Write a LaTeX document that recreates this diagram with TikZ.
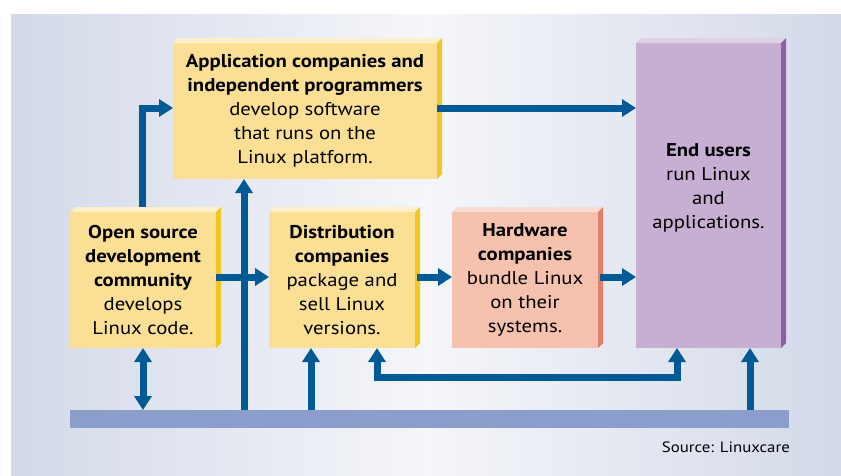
\documentclass[tikz,border=0pt]{standalone}
\usepackage{fontspec}
\setmainfont{PT Sans}[FakeStretch=1.12]
\usetikzlibrary{arrows.meta}
\definecolor{bgedge}{HTML}{D3D9E8}
\definecolor{bgmid}{HTML}{F5F6FA}
\definecolor{yfront}{HTML}{FADF95}
\definecolor{yside}{HTML}{F4C623}
\definecolor{ytop}{HTML}{FDEFC8}
\definecolor{hfront}{HTML}{F6C2AE}
\definecolor{hside}{HTML}{E27E69}
\definecolor{htop}{HTML}{FADDD2}
\definecolor{efront}{HTML}{C6AFD3}
\definecolor{eside}{HTML}{8D60A3}
\definecolor{etop}{HTML}{DED1E6}
\definecolor{barcol}{HTML}{8B9DCA}
\definecolor{arrowcol}{HTML}{005A96}
\newcommand\boxfaces[3]{%
  \fill[#2] (#1.north west) -- ++(5,-5) -- ([shift={(5,-5)}]#1.north east) -- (#1.north east) -- cycle;
  \fill[#3] (#1.north east) -- ++(5,-5) -- ([shift={(5,-5)}]#1.south east) -- (#1.south east) -- cycle;
}
\begin{document}
\begin{tikzpicture}[x=1pt,y=-1pt,
  box/.style={anchor=north west, inner sep=0pt, outer sep=0pt, align=center,
    font=\fontsize{18.5}{24}\selectfont, text=black},
  ybox/.style={box, fill=yfront},
  arr/.style={draw=arrowcol, line width=7pt, -{Triangle[width=17pt,length=14pt]}},
  dblarr/.style={draw=arrowcol, line width=7pt, line join=miter,
    {Triangle[width=17pt,length=14pt]}-{Triangle[width=17pt,length=14pt]}},
  ]
\useasboundingbox (0,0) rectangle (841,475);
\shade[left color=bgedge, right color=bgedge, middle color=bgmid] (11,14) rectangle (841,475);

\node[ybox, minimum width=264pt, minimum height=136pt] (app) at (173,43)
  {\textbf{Application companies and}\\\textbf{independent programmers}\\develop software\\that runs on the\\Linux platform.};
\boxfaces{app}{ytop}{yside}
\node[ybox, minimum width=146pt, minimum height=136pt] (os) at (70,212)
  {\textbf{Open source}\\\textbf{development}\\\textbf{community}\\develops\\Linux code.};
\boxfaces{os}{ytop}{yside}
\node[ybox, minimum width=146pt, minimum height=136pt] (dist) at (269,212)
  {\textbf{Distribution}\\\textbf{companies}\\package and\\sell Linux\\versions.};
\boxfaces{dist}{ytop}{yside}
\node[box, fill=hfront, minimum width=146pt, minimum height=136pt] (hw) at (452,212)
  {\textbf{Hardware}\\\textbf{companies}\\bundle Linux\\on their\\systems.};
\boxfaces{hw}{htop}{hside}
\node[box, fill=efront, minimum width=145pt, minimum height=305pt] (eu) at (636,43) {};
\boxfaces{eu}{etop}{eside}
\node[box, anchor=center] (eutext) at (708.5,188)
  {\textbf{End users}\\run Linux\\and\\applications.};

\node[box, fill=barcol, minimum width=719pt, minimum height=18pt] (bar) at (70,410) {};
\node[anchor=base east, inner sep=0pt, font=\fontsize{15}{18}\selectfont] (src) at (790,452) {Source: Linuxcare};

% connectors
\coordinate (a1) at (142,207);
\coordinate (a1y) at (0,108);
\draw[arr, line join=miter] (a1) |- (app.west |- a1y);
\coordinate (a2) at (437,108);
\draw[arr] (a2) -- (eu.west |- a2);
\coordinate (b3) at (244,410);
\draw[arr] (b3) -- (app.south -| b3);
\coordinate (r4) at (216,277);
\draw[arr] (r4) -- (dist.west |- r4);
\coordinate (r5) at (417,277);
\draw[arr] (r5) -- (hw.west |- r5);
\coordinate (r6) at (600,277);
\draw[arr] (r6) -- (eu.west |- r6);
\draw[dblarr] (os.south) -- (os.south |- bar.north);
\coordinate (b8) at (311,410);
\draw[arr] (b8) -- (dist.south -| b8);
\coordinate (l9) at (377,377);
\coordinate (r9) at (677,377);
\draw[dblarr] (dist.south -| l9) -- (l9) -- (r9) -- (eu.south -| r9);
\coordinate (b10) at (750,410);
\draw[arr] (b10) -- (eu.south -| b10);
\end{tikzpicture}
\end{document}
